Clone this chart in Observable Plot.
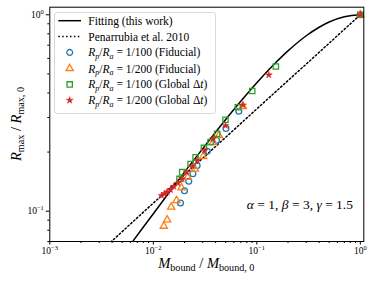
<!DOCTYPE html>
<html><head><meta charset="utf-8">
<script src="https://cdn.jsdelivr.net/npm/d3@7"></script>
<script src="https://cdn.jsdelivr.net/npm/@observablehq/plot@0.6"></script>
<style>body{margin:0;background:#fff} svg{display:block}</style>
</head><body><div id="chart"></div>
<script>
// Fitting curve (this work)
const fitX = [0.006, 0.01, 0.02, 0.03, 0.05, 0.07, 0.1, 0.15, 0.2, 0.3, 0.4, 0.5, 0.7, 1, 1.08];
const fitY = [0.0676, 0.0971, 0.158, 0.208, 0.293, 0.363, 0.451, 0.566, 0.655, 0.782, 0.864, 0.919, 0.977, 1.0, 0.999];
// Penarrubia et al. 2010
const penX = [0.003, 0.01, 0.03, 0.1, 0.3, 1];
const penY = [0.0615, 0.110, 0.186, 0.332, 0.561, 1];
// Rp/Ra = 1/100 (Fiducial)
const fid100X = [0.0183, 0.0200, 0.0220, 0.0241, 0.0265, 0.0332, 0.0408, 0.0503, 0.067, 1];
const fid100Y = [0.110, 0.127, 0.142, 0.155, 0.171, 0.202, 0.230, 0.264, 0.323, 1];
// Rp/Ra = 1/200 (Fiducial)
const fid200X = [0.01262, 0.01361, 0.01489, 0.01675, 0.01873, 0.02154, 0.0252, 0.0303, 0.0379, 0.0430, 0.0733, 1];
const fid200Y = [0.0839, 0.0904, 0.105, 0.1133, 0.1316, 0.149, 0.164, 0.190, 0.2246, 0.243, 0.341, 1];
// Rp/Ra = 1/100 (Global dt)
const glob100X = [0.0179, 0.0190, 0.0229, 0.0256, 0.0308, 0.0357, 0.0414, 0.0498, 0.0655, 0.0903, 0.1527, 1];
const glob100Y = [0.146, 0.158, 0.174, 0.188, 0.210, 0.2246, 0.248, 0.292, 0.3385, 0.409, 0.545, 1];
// Rp/Ra = 1/200 (Global dt)
const glob200X = [0.0120, 0.01282, 0.01361, 0.01465, 0.01578, 0.01726, 0.0190, 0.02094, 0.02377, 0.02655, 0.0313, 0.0379, 0.0498, 0.0736, 0.1306, 1];
const glob200Y = [0.120, 0.1227, 0.125, 0.1285, 0.1336, 0.139, 0.146, 0.158, 0.169, 0.181, 0.204, 0.234, 0.273, 0.347, 0.494, 1];

const xMajorTicks = [1e-3, 1e-2, 1e-1, 1];
const xTickExp = ["-3", "-2", "-1", "0"];
const yMajorTicks = [0.1, 1];
const yTickExp = ["-1", "0"];
const xMinorTicks = [];
for (const k of [1e-3, 1e-2, 1e-1]) for (let m = 2; m <= 9; m++) xMinorTicks.push(m * k);
const yMinorTicks = [0.07, 0.08, 0.09, 0.2, 0.3, 0.4, 0.5, 0.6, 0.7, 0.8, 0.9];

const legendLabels = ["Fitting (this work)", "Penarrubia et al. 2010", "1/100", "1/200", "1/100", "1/200"];

const zip = (xs, ys) => xs.map((x, i) => ({x, y: ys[i]}));
const FONT = "'Liberation Serif', 'DejaVu Serif', serif";
const R = {circle: 2.9, triangle: 2.7, square: 3.0, star: 2.2};

const plot = Plot.plot({
  width: 374, height: 281,
  marginLeft: 49.3, marginRight: 10.7, marginTop: 6.7, marginBottom: 40,
  x: {type: "log", domain: [1e-3, 1.08], label: null},
  y: {type: "log", domain: [0.0701, 1.093], label: null},
  style: {fontFamily: FONT, fontSize: "9.5px", color: "#000", background: "#fff"},
  marks: [
    Plot.line(zip(penX, penY), {x: "x", y: "y", stroke: "#000", strokeWidth: 1.5, strokeDasharray: "1.5,2.4", clip: true}),
    Plot.line(zip(fitX, fitY), {x: "x", y: "y", stroke: "#000", strokeWidth: 1.5, curve: "catmull-rom", clip: true}),
    Plot.dot(zip(fid100X, fid100Y), {x: "x", y: "y", r: R.circle, symbol: "circle", stroke: "#1f77b4", strokeWidth: 1.3, fill: "none"}),
    Plot.dot(zip(fid200X, fid200Y), {x: "x", y: "y", r: R.triangle, symbol: "triangle", stroke: "#ff7f0e", strokeWidth: 1.3, fill: "none"}),
    Plot.dot(zip(glob100X, glob100Y), {x: "x", y: "y", r: R.square, symbol: "square", stroke: "#2ca02c", strokeWidth: 1.3, fill: "none"}),
    Plot.dot(zip(glob200X, glob200Y), {x: "x", y: "y", r: R.star, symbol: "star", fill: "#d62728", stroke: "#d62728", strokeWidth: 0.5}),
    Plot.frame({stroke: "#000", strokeWidth: 1}),
    Plot.axisX(xMajorTicks, {tickSize: 3.5, tickPadding: 2.5, tickFormat: d => xTickExp[xMajorTicks.indexOf(d)]}),
    Plot.axisX(xMinorTicks, {tickSize: 2, tickFormat: () => ""}),
    Plot.axisY(yMajorTicks, {tickSize: 3.5, tickPadding: 2.5, tickFormat: d => yTickExp[yMajorTicks.indexOf(d)]}),
    Plot.axisY(yMinorTicks, {tickSize: 2, tickFormat: () => ""})
  ]
});
document.getElementById("chart").appendChild(plot);
const svg = d3.select(plot);

// superscript tick labels
svg.selectAll('g[aria-label="x-axis tick label"] text, g[aria-label="y-axis tick label"] text').each(function() {
  const e = this.textContent;
  if (!e) return;
  this.textContent = "";
  const t = d3.select(this);
  t.append("tspan").text("10");
  t.append("tspan").attr("dy", -4).attr("font-size", 6.5).text(e.replace("-", "\u2212"));
});

// math text helper
function mathText(g, x, y, parts, size, anchor) {
  const t = g.append("text").attr("x", x).attr("y", y).attr("font-family", FONT)
    .attr("font-size", size).attr("fill", "#000").attr("text-anchor", anchor || "start");
  let cur = 0;
  for (const p of parts) {
    const ts = t.append("tspan").text(p.t);
    if (p.i) ts.attr("font-style", "italic");
    const s = p.sub ? size * 0.22 : 0;
    if (p.sub) ts.attr("font-size", size * 0.7);
    if (s !== cur) { ts.attr("dy", s - cur); cur = s; }
  }
  return t;
}

// legend
const lg = svg.append("g");
lg.append("rect").attr("x", 54.5).attr("y", 12.5).attr("width", 161).attr("height", 101)
  .attr("rx", 2.5).attr("fill", "#fff").attr("fill-opacity", 0.8).attr("stroke", "#d0d0d0").attr("stroke-width", 0.8);
const rowY = [20.7, 36.5, 52.4, 68.6, 84.4, 100.3];
const tx = 88.3, fs = 11.5;
lg.append("line").attr("x1", 58.3).attr("x2", 81).attr("y1", rowY[0]).attr("y2", rowY[0]).attr("stroke", "#000").attr("stroke-width", 1.5);
lg.append("line").attr("x1", 58.3).attr("x2", 81).attr("y1", rowY[1]).attr("y2", rowY[1]).attr("stroke", "#000").attr("stroke-width", 1.5).attr("stroke-dasharray", "1.5,2.4");
const syms = [
  {type: d3.symbolCircle, r: R.circle, stroke: "#1f77b4", fill: "none"},
  {type: d3.symbolTriangle, r: R.triangle, stroke: "#ff7f0e", fill: "none"},
  {type: d3.symbolSquare, r: R.square, stroke: "#2ca02c", fill: "none"},
  {type: d3.symbolStar, r: R.star, stroke: "#d62728", fill: "#d62728"}
];
syms.forEach((s, i) => {
  lg.append("path").attr("transform", `translate(69.7,${rowY[i + 2]})`)
    .attr("d", d3.symbol(s.type, Math.PI * s.r * s.r)())
    .attr("fill", s.fill).attr("stroke", s.stroke).attr("stroke-width", i === 3 ? 0.5 : 1.3);
});
mathText(lg, tx, rowY[0] + 4, [{t: legendLabels[0]}], fs);
mathText(lg, tx, rowY[1] + 4, [{t: legendLabels[1]}], fs);
[2, 3, 4, 5].forEach(i => {
  const tail = i < 4 ? [{t: " (Fiducial)"}] : [{t: " (Global \u0394"}, {t: "t", i: true}, {t: ")"}];
  mathText(lg, tx, rowY[i] + 4, [
    {t: "R", i: true}, {t: "p", i: true, sub: true}, {t: "/"}, {t: "R", i: true}, {t: "a", i: true, sub: true},
    {t: " = " + legendLabels[i]}, ...tail
  ], fs);
});

// axis labels
mathText(svg, 206.3, 268, [
  {t: "M", i: true}, {t: "bound", sub: true}, {t: " / "}, {t: "M", i: true}, {t: "bound, 0", sub: true}
], 14.5, "middle");
const yl = mathText(svg, 0, 0, [
  {t: "R", i: true}, {t: "max", sub: true}, {t: " / "}, {t: "R", i: true}, {t: "max, 0", sub: true}
], 14.5, "middle");
yl.attr("transform", "translate(21,124) rotate(-90)");

// annotation
mathText(svg, 353, 209, [
  {t: "\u03b1", i: true}, {t: " = 1, "}, {t: "\u03b2", i: true}, {t: " = 3, "}, {t: "\u03b3", i: true}, {t: " = 1.5"}
], 13.5, "end");
</script>
</body></html>
